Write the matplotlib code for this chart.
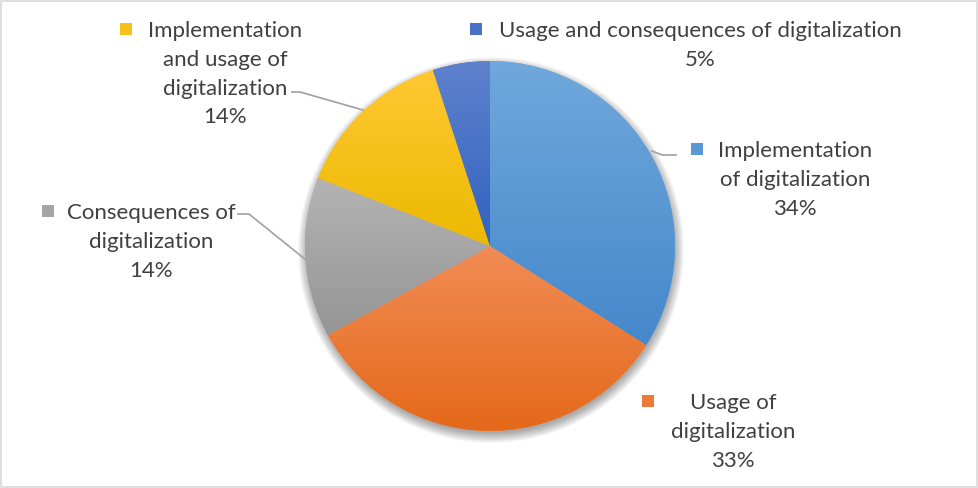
import numpy as np
import matplotlib
matplotlib.use("Agg")
import matplotlib.pyplot as plt
from matplotlib.patches import Rectangle, Circle
from matplotlib.colors import to_rgb

labels = ["Implementation\nof digitalization",
          "Usage of\ndigitalization",
          "Consequences of\ndigitalization",
          "Implementation\nand usage of\ndigitalization",
          "Usage and consequences of digitalization"]
values = [34, 33, 14, 14, 5]
top_colors = ["#70a8dc", "#f18c55", "#b4b4b4", "#ffc833", "#5f82cc"]
bot_colors = ["#4588cb", "#e4691a", "#959595", "#ecb900", "#2f62c0"]

W, H = 979, 489
fig = plt.figure(figsize=(W / 100, H / 100), dpi=100)
ax = fig.add_axes([0, 0, 1, 1])

def Y(y):
    return H - y

cx, cy, R = 490, Y(247), 185

# border
ax.add_patch(Rectangle((1.5, 1.5), W - 3, H - 3, fill=False, ec="#d9d9d9", lw=1.2))

# soft shadow
for i in range(12):
    ax.add_patch(Circle((cx + 1, cy - 4), R - 2 + i * 0.9, color="black",
                        alpha=0.03, lw=0, zorder=1))

wedges, _ = ax.pie(values, startangle=90, counterclock=False,
                   center=(cx, cy), radius=R, frame=True,
                   colors=top_colors, wedgeprops=dict(lw=0, zorder=2))

n = 256
t = np.linspace(0, 1, n)[:, None]
for w, c1, c2 in zip(wedges, top_colors, bot_colors):
    a = np.array(to_rgb(c1)); b = np.array(to_rgb(c2))
    img = (a[None, None, :] * (1 - t[..., None]) + b[None, None, :] * t[..., None])
    img = np.repeat(img, 2, axis=1)
    bb = w.get_path().get_extents(w.get_patch_transform())
    im = ax.imshow(img, extent=(bb.x0, bb.x1, bb.y0, bb.y1), origin="upper",
                   zorder=3, interpolation="bilinear", aspect="auto")
    im.set_clip_path(w)
ax.set_xlim(0, W)
ax.set_ylim(0, H)
ax.set_aspect("equal")
ax.axis("off")

# labels: text center x, first line center y, marker x
txt_color = "#404040"
fs = 16
label_pos = [(795, 150, 697), (733, 402, 648), (151, 212, 48), (225, 30, 126), (700, 30, 476)]
for lab, v, (tx, ty, mx), c1, c2 in zip(labels, values, label_pos, top_colors, bot_colors):
    s = lab + "\n" + f"{v}%"
    ax.text(tx, Y(ty - 9), s, ha="center", va="top", fontsize=fs, family="Lato",
            color=txt_color, linespacing=1.55, zorder=5)
    mid = (np.array(to_rgb(c1)) + np.array(to_rgb(c2))) / 2
    ax.add_patch(Rectangle((mx - 6, Y(ty) - 6), 12, 12, color=mid, lw=0, zorder=5))

# leader lines
lc = "#a6a6a6"
leaders = [
    [(652, 152), (662, 156), (676, 156)],
    [(238, 215), (249, 215), (306, 261)],
    [(292, 93), (300, 93), (363, 111)],
]
for pts in leaders:
    xs = [p[0] for p in pts]; ys = [Y(p[1]) for p in pts]
    ax.plot(xs, ys, color=lc, lw=1.3, zorder=4)

fig.savefig("out.png", dpi=100)
